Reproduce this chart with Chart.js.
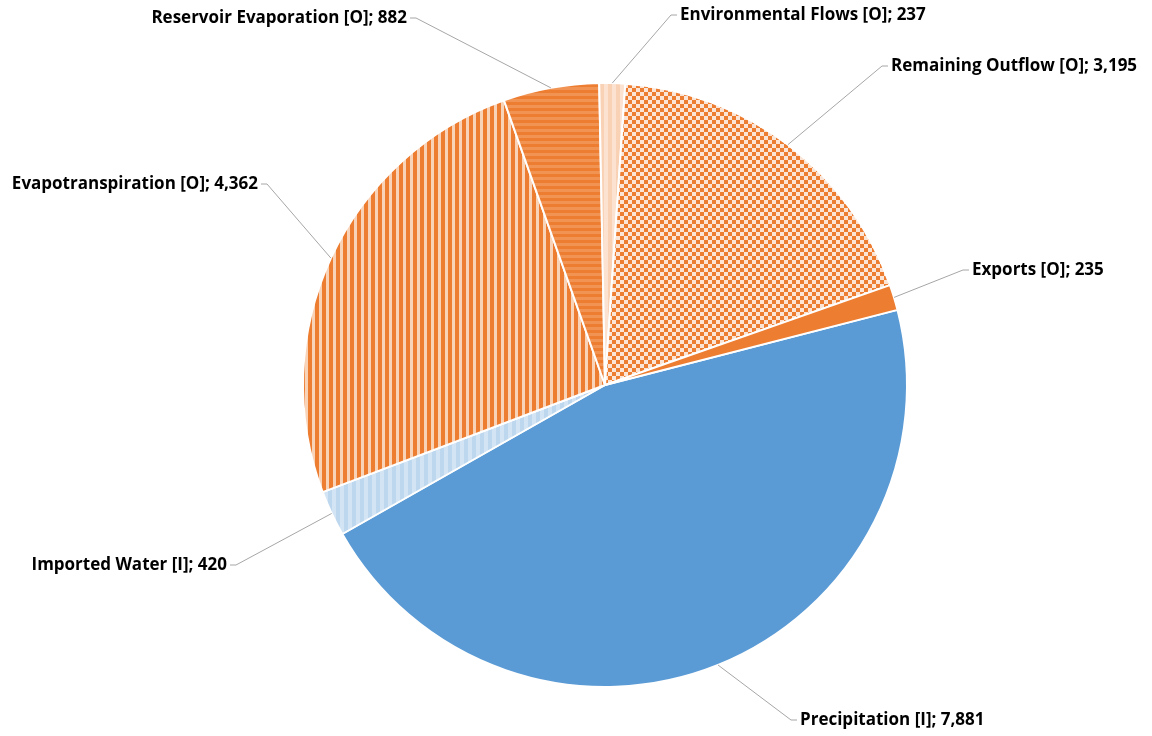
<!DOCTYPE html>
<html><head><meta charset="utf-8">
<script src="https://cdn.jsdelivr.net/npm/chart.js@4/dist/chart.umd.min.js"></script>
<style>html,body{margin:0;padding:0;background:#fff}#wrap{width:1152px;height:736px;position:relative}</style>
</head><body><div id="wrap"><canvas id="c" width="1152" height="736"></canvas></div>
<script>
// ---- data ----
const categories = ['Precipitation [I]', 'Imported Water [I]', 'Evapotranspiration [O]', 'Reservoir Evaporation [O]', 'Environmental Flows [O]', 'Remaining Outflow [O]', 'Exports [O]'];
const values = [7881, 420, 4362, 882, 237, 3195, 235];

// ---- label layout (anchor where leader line meets label; side = where text sits) ----
const labelLayout = [
  {x: 797, y: 720, side: 'right'},
  {x: 230, y: 565, side: 'left'},
  {x: 261, y: 184, side: 'left'},
  {x: 410, y: 18, side: 'left'},
  {x: 677, y: 15, side: 'right'},
  {x: 888, y: 66, side: 'right'},
  {x: 969, y: 270, side: 'right'}
];

function pat(w, h, draw) {
  const c = document.createElement('canvas');
  c.width = w; c.height = h;
  const g = c.getContext('2d');
  draw(g);
  return g.createPattern(c, 'repeat');
}
const ctx = document.getElementById('c').getContext('2d');
const fills = [
  '#5B9BD5',
  pat(8, 8, g => { g.fillStyle = '#BDD7EE'; g.fillRect(0,0,8,8); g.fillStyle = '#D3E4F4'; g.fillRect(4,0,4,8); }),
  pat(7, 7, g => { g.fillStyle = '#ED7D31'; g.fillRect(0,0,7,7); g.fillStyle = '#F9D3B8'; g.fillRect(4,0,3,7); }),
  pat(6, 6, g => { g.fillStyle = '#ED7D31'; g.fillRect(0,0,6,6); g.fillStyle = '#F19352'; g.fillRect(0,3,6,3); }),
  pat(8, 8, g => { g.fillStyle = '#F9D2B6'; g.fillRect(0,0,8,8); g.fillStyle = '#FCE3D1'; g.fillRect(4,0,4,8); }),
  pat(8, 8, g => { g.fillStyle = '#FBE5D6'; g.fillRect(0,0,8,8); g.fillStyle = '#ED7D31'; g.fillRect(0,0,4,4); g.fillRect(4,4,4,4); }),
  '#ED7D31'
];

const labelPlugin = {
  id: 'leaderLabels',
  afterDatasetsDraw(chart) {
    const c = chart.ctx;
    const meta = chart.getDatasetMeta(0);
    c.save();
    c.font = 'bold 17px "Open Sans", Lato, sans-serif';
    c.textBaseline = 'middle';
    meta.data.forEach((arc, i) => {
      const p = arc.getProps(['x','y','startAngle','endAngle','outerRadius'], true);
      const mid = (p.startAngle + p.endAngle) / 2;
      const ex = p.x + Math.cos(mid) * p.outerRadius;
      const ey = p.y + Math.sin(mid) * p.outerRadius;
      const L = labelLayout[i];
      const dir = L.side === 'right' ? -1 : 1;
      const elbowX = L.x + dir * 6;
      c.strokeStyle = '#A6A6A6';
      c.lineWidth = 1;
      c.beginPath();
      c.moveTo(ex, ey);
      c.lineTo(elbowX, L.y);
      c.lineTo(L.x, L.y);
      c.stroke();
      const txt = categories[i] + '; ' + values[i].toLocaleString('en-US');
      c.fillStyle = '#000';
      if (L.side === 'right') { c.textAlign = 'left'; c.fillText(txt, L.x + 3, L.y); }
      else { c.textAlign = 'right'; c.fillText(txt, L.x - 3, L.y); }
    });
    c.restore();
  }
};

new Chart(ctx, {
  type: 'pie',
  data: {
    labels: categories,
    datasets: [{
      data: values,
      backgroundColor: fills,
      borderColor: '#FFFFFF',
      borderWidth: 2
    }]
  },
  options: {
    responsive: false,
    animation: false,
    rotation: 75.6,
    layout: { padding: { left: 302, right: 244, top: 82, bottom: 48 } },
    plugins: { legend: { display: false }, tooltip: { enabled: false } }
  },
  plugins: [labelPlugin]
});
</script>
</body></html>
